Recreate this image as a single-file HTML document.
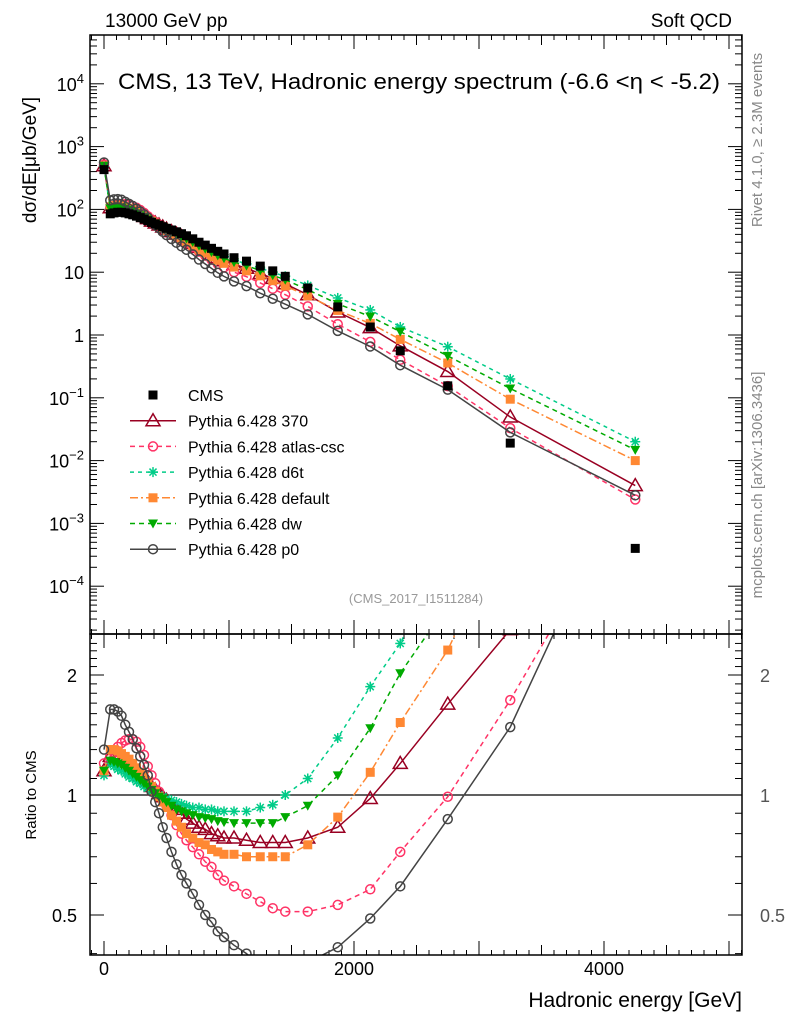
<!DOCTYPE html>
<html><head><meta charset="utf-8"><style>
body{margin:0;background:#fff;}
svg{font-family:"Liberation Sans",sans-serif;}
</style></head><body>
<svg id="c" width="786" height="1024" xmlns="http://www.w3.org/2000/svg">
<text x="105" y="27" font-size="19">13000 GeV pp</text>
<text x="732" y="27" font-size="19" text-anchor="end">Soft QCD</text>
<text x="118" y="89" font-size="22" textLength="602" lengthAdjust="spacingAndGlyphs">CMS, 13 TeV, Hadronic energy spectrum (-6.6 &lt;η &lt; -5.2)</text>
<text x="416" y="603" font-size="13" fill="#999" text-anchor="middle">(CMS_2017_I1511284)</text>
<text transform="translate(762,140) rotate(-90)" font-size="15" fill="#888" text-anchor="middle">Rivet 4.1.0, ≥ 2.3M events</text>
<text transform="translate(762,485) rotate(-90)" font-size="15" fill="#888" text-anchor="middle">mcplots.cern.ch [arXiv:1306.3436]</text>
<text transform="translate(36,160) rotate(-90)" font-size="19" text-anchor="middle">dσ/dE[μb/GeV]</text>
<text transform="translate(36,795) rotate(-90)" font-size="15" text-anchor="middle">Ratio to CMS</text>
<text x="742" y="1007" font-size="21" text-anchor="end">Hadronic energy [GeV]</text>
<defs><clipPath id="cm"><rect x="90" y="35" width="652" height="599"/></clipPath><clipPath id="cr"><rect x="90" y="634" width="652" height="321"/></clipPath></defs>
<g id="axes"></g><g id="main" clip-path="url(#cm)"></g><g id="ratio" clip-path="url(#cr)"></g><g id="legend"></g>
<rect x="90" y="35" width="652" height="599" fill="none" stroke="#000" stroke-width="1.5"/>
<rect x="90" y="634" width="652" height="321" fill="none" stroke="#000" stroke-width="1.5"/>
</svg>
<script>
const energies=[0,50,80,110,140,170,200,230,260,290,320,350,380,410,440,470,500,540,580,620,660,710,760,810,860,910,960,1040,1140,1250,1350,1450,1630,1870,2130,2370,2750,3250,4250];
const cmsValues=[430,85,88,90,90,88,85,82,78,74,70,66,62,59,56,53,50,47,44,41,38,34,30,27,24,21.5,19.5,17,15,12.5,10.5,8.6,5.6,2.8,1.34,0.56,0.155,0.019,0.0004];
const ratioP0=[1.30,1.64,1.64,1.62,1.58,1.50,1.44,1.38,1.31,1.25,1.19,1.12,1.02,0.96,0.90,0.83,0.78,0.72,0.67,0.63,0.60,0.565,0.53,0.50,0.48,0.455,0.44,0.42,0.40,0.37,0.36,0.36,0.38,0.415,0.49,0.59,0.87,1.48,7.0];
const ratioAtlas=[1.20,1.25,1.28,1.32,1.35,1.37,1.38,1.38,1.36,1.32,1.26,1.18,1.12,1.07,1.02,0.98,0.94,0.89,0.84,0.80,0.77,0.74,0.71,0.68,0.66,0.63,0.61,0.59,0.565,0.54,0.52,0.51,0.51,0.53,0.58,0.72,0.99,1.73,6.0];
const ratio370=[1.15,1.25,1.24,1.23,1.21,1.19,1.18,1.16,1.14,1.12,1.10,1.08,1.05,1.03,1.01,0.99,0.97,0.94,0.92,0.90,0.87,0.85,0.83,0.82,0.80,0.79,0.78,0.78,0.77,0.76,0.76,0.76,0.78,0.83,0.98,1.20,1.69,2.6,10];
const ratioDefault=[1.15,1.30,1.30,1.29,1.27,1.25,1.23,1.20,1.17,1.14,1.11,1.08,1.05,1.02,0.99,0.96,0.93,0.89,0.86,0.83,0.80,0.78,0.76,0.75,0.73,0.72,0.71,0.71,0.70,0.70,0.70,0.70,0.75,0.88,1.14,1.52,2.31,5.0,25];
const ratioD6t=[1.12,1.20,1.18,1.16,1.15,1.13,1.11,1.10,1.08,1.07,1.05,1.04,1.02,1.01,1.00,0.99,0.98,0.97,0.96,0.95,0.94,0.93,0.93,0.92,0.92,0.91,0.91,0.91,0.91,0.93,0.945,1.0,1.10,1.39,1.87,2.4,4.2,10.5,50];
const ratioDw=[1.15,1.22,1.21,1.20,1.19,1.17,1.15,1.13,1.11,1.09,1.07,1.05,1.03,1.01,0.99,0.98,0.96,0.94,0.92,0.91,0.90,0.89,0.88,0.875,0.87,0.86,0.855,0.85,0.85,0.85,0.85,0.88,0.94,1.12,1.47,2.02,3.0,7.4,37];
const xTicks=[0,2000,4000];
const yExps=[-4,-3,-2,-1,0,1,2,3,4];
const ratioTicks=[0.5,1,2];

const NS="http://www.w3.org/2000/svg";
const X=e=>104+e*0.125;
const Y=v=>335-62.8*Math.log10(v);
const R=r=>795-120*Math.log2(r);
function mk(tag,at,parent){const el=document.createElementNS(NS,tag);for(const k in at)el.setAttribute(k,at[k]);parent.appendChild(el);return el;}
const axes=document.getElementById('axes'),main=document.getElementById('main'),ratio=document.getElementById('ratio'),leg=document.getElementById('legend');

for(let e=-100;e<=5100;e+=100){
  const x=X(e);if(x<90||x>742)continue;
  const L=e%1000===0?14:(e%500===0?10:5);
  for(const [y0,d] of [[634,-1],[955,-1],[35,1],[634,1]]){
    const t=mk('line',{x1:x,x2:x,y1:y0,y2:y0+d*L,stroke:'#000'},axes);
    
  }
}
xTicks.forEach(e=>{const t=mk('text',{x:X(e),y:975,'font-size':18,'text-anchor':'middle'},axes);t.textContent=e;
});
for(let p=-5;p<=4;p++){for(let m=1;m<10;m++){const y=Y(m*Math.pow(10,p));if(y<35||y>634)continue;const L=m===1?14:7;
 const a=mk('line',{x1:90,x2:90+L,y1:y,y2:y,stroke:'#000'},axes);
 const b=mk('line',{x1:742,x2:742-L,y1:y,y2:y,stroke:'#000'},axes);}}
yExps.forEach(p=>{const y=Y(Math.pow(10,p))+7;const t=mk('text',{x:84,y:y,'font-size':18,'text-anchor':'end'},axes);
 if(p===0)t.textContent='1';else if(p===1)t.textContent='10';
 else{t.textContent='10';const s=mk('tspan',{dy:-8,'font-size':13},t);s.textContent=p>0?String(p):'−'+(-p);}
 });
for(let r=0.4;r<=2.5;r+=0.1){const y=R(r);if(y<634||y>955)continue;const maj=Math.abs(r-0.5)<1e-6||Math.abs(r-1)<1e-6||Math.abs(r-2)<1e-6;const L=maj?14:7;
 const a=mk('line',{x1:90,x2:90+L,y1:y,y2:y,stroke:'#000'},axes);
 const b=mk('line',{x1:742,x2:742-L,y1:y,y2:y,stroke:'#000'},axes);}
ratioTicks.forEach(r=>{const a=mk('text',{x:77,y:R(r)+7,'font-size':18,'text-anchor':'end'},axes);a.textContent=r;
 
 const b=mk('text',{x:760,y:R(r)+7,'font-size':18,fill:'#555'},axes);b.textContent=r;
 });
const one=mk('line',{x1:90,x2:742,y1:R(1),y2:R(1),stroke:'#000','stroke-width':1.3},ratio);


function marker(g,type,x,y,col,name){
 let el;
 if(type==='sq')el=mk('rect',{x:x-4.5,y:y-4.5,width:9,height:9,fill:col},g);
 else if(type==='circ')el=mk('circle',{cx:x,cy:y,r:4.5,fill:'none',stroke:col,'stroke-width':1.5},g);
 else if(type==='tri')el=mk('polygon',{points:`${x},${y-7} ${x-7},${y+5} ${x+7},${y+5}`,fill:'none',stroke:col,'stroke-width':1.5},g);
 else if(type==='tdown')el=mk('polygon',{points:`${x-5},${y-4} ${x+5},${y-4} ${x},${y+5}`,fill:col},g);
 else if(type==='star'){el=mk('g',{stroke:col,'stroke-width':1.5},g);
  for(let a=0;a<4;a++){const an=a*Math.PI/4;mk('line',{x1:x-5*Math.cos(an),y1:y-5*Math.sin(an),x2:x+5*Math.cos(an),y2:y+5*Math.sin(an)},el);}}
 
}
const series=[
 {name:'pythia-370',label:'Pythia 6.428 370',ratio:ratio370,col:'#990022',type:'tri',dash:''},
 {name:'pythia-atlas-csc',label:'Pythia 6.428 atlas-csc',ratio:ratioAtlas,col:'#ff3366',type:'circ',dash:'5,4'},
 {name:'pythia-d6t',label:'Pythia 6.428 d6t',ratio:ratioD6t,col:'#00cc88',type:'star',dash:'4,4'},
 {name:'pythia-default',label:'Pythia 6.428 default',ratio:ratioDefault,col:'#ff8833',type:'sq',dash:'8,3,2,3'},
 {name:'pythia-dw',label:'Pythia 6.428 dw',ratio:ratioDw,col:'#00aa00',type:'tdown',dash:'5,4'},
 {name:'pythia-p0',label:'Pythia 6.428 p0',ratio:ratioP0,col:'#444444',type:'circ',dash:''}
];
series.forEach(s=>{
 const vals=s.ratio.map((r,i)=>r*cmsValues[i]);
 const pm=energies.map((e,i)=>X(e)+','+Y(vals[i])).join(' ');
 const l=mk('polyline',{points:pm,fill:'none',stroke:s.col,'stroke-width':1.5,'stroke-dasharray':s.dash},main);
 
 const pr=energies.map((e,i)=>X(e)+','+R(s.ratio[i])).join(' ');
 const l2=mk('polyline',{points:pr,fill:'none',stroke:s.col,'stroke-width':1.5,'stroke-dasharray':s.dash},ratio);
 
 energies.forEach((e,i)=>{marker(main,s.type,X(e),Y(vals[i]),s.col,s.name+'-point');marker(ratio,s.type,X(e),R(s.ratio[i]),s.col,s.name+'-ratio-point');});
});
energies.forEach((e,i)=>marker(main,'sq',X(e),Y(cmsValues[i]),'#000','cms-point'));
const rows=[{label:'CMS',col:'#000',type:'sq',dash:null,name:'cms'}].concat(series);
rows.forEach((s,k)=>{const y=395+k*25.7;
 if(s.dash!==null){const l=mk('line',{x1:130,x2:176,y1:y,y2:y,stroke:s.col,'stroke-width':1.5,'stroke-dasharray':s.dash},leg);
  }
 marker(leg,s.type,153,y,s.col,'legend-marker');
 const t=mk('text',{x:188,y:y+6,'font-size':16},leg);t.textContent=s.label;
 });
</script>
</body></html>
